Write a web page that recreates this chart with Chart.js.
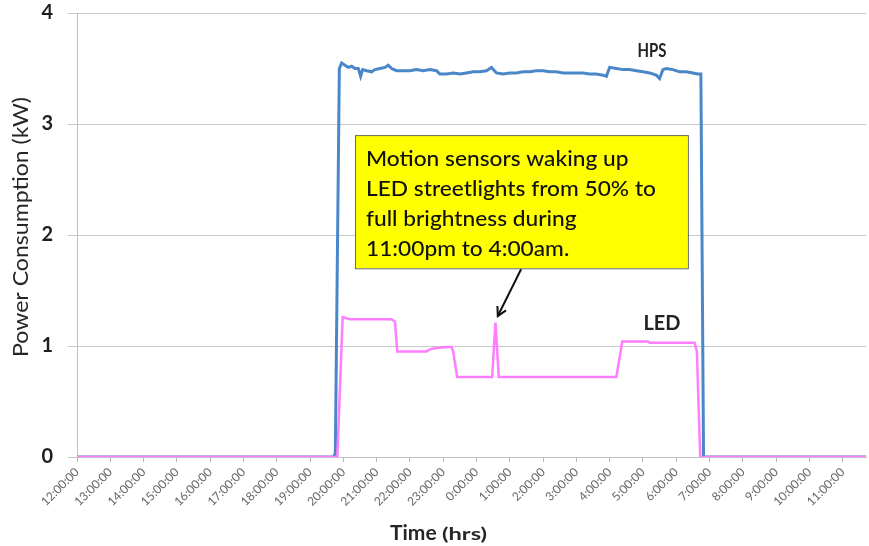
<!DOCTYPE html>
<html>
<head>
<meta charset="utf-8">
<script src="https://cdn.jsdelivr.net/npm/chart.js@4.4.1/dist/chart.umd.min.js"></script>
<style>
  html, body { margin: 0; padding: 0; background: #fff; }
  #wrap { width: 869px; height: 546px; }
</style>
</head>
<body>
<div id="wrap"><canvas id="powerChart" width="869" height="546"></canvas></div>
<script>
// x values are hours after 12:00 (noon)
const hpsHours = [0, 7.70, 7.76, 7.88, 7.95, 8.05, 8.15, 8.25, 8.35, 8.45, 8.52, 8.58, 8.70, 8.85, 8.95,
  9.10, 9.25, 9.35, 9.45, 9.60, 9.80, 10.0, 10.2, 10.4, 10.6, 10.8, 10.9, 11.1, 11.3, 11.5, 11.7,
  11.9, 12.1, 12.3, 12.45, 12.6, 12.8, 13.0, 13.2, 13.4, 13.6, 13.8, 14.0, 14.2, 14.4, 14.6, 14.8,
  15.0, 15.2, 15.4, 15.6, 15.8, 15.9, 16.0, 16.2, 16.4, 16.6, 16.8, 17.0, 17.2, 17.4, 17.5, 17.6,
  17.7, 17.9, 18.1, 18.3, 18.5, 18.65, 18.74, 18.82, 23.7];
const hpsKw = [0, 0, 0.03, 3.50, 3.55, 3.53, 3.51, 3.52, 3.50, 3.50, 3.43, 3.49, 3.48, 3.47, 3.49,
  3.50, 3.51, 3.53, 3.50, 3.48, 3.48, 3.48, 3.49, 3.48, 3.49, 3.48, 3.45, 3.45, 3.46, 3.45, 3.46,
  3.47, 3.47, 3.48, 3.51, 3.46, 3.45, 3.46, 3.46, 3.47, 3.47, 3.48, 3.48, 3.47, 3.47, 3.46, 3.46,
  3.46, 3.46, 3.45, 3.45, 3.44, 3.43, 3.51, 3.50, 3.49, 3.49, 3.48, 3.47, 3.46, 3.44, 3.41, 3.49,
  3.50, 3.49, 3.47, 3.47, 3.46, 3.45, 3.45, 0, 0];

const ledHours = [0, 7.82, 7.98, 8.10, 8.20, 9.45, 9.55, 9.62, 10.50, 10.60, 10.75, 11.10, 11.25,
  11.30, 11.42, 12.47, 12.57, 12.67, 16.20, 16.38, 17.15, 17.20, 18.55, 18.62, 18.72, 23.7];
const ledKw = [0, 0, 1.26, 1.25, 1.24, 1.24, 1.22, 0.95, 0.95, 0.97, 0.98, 0.99, 0.99,
  0.95, 0.72, 0.72, 1.21, 0.72, 0.72, 1.04, 1.04, 1.03, 1.03, 0.95, 0, 0];

const yTicks = [0, 1, 2, 3, 4];
const noteLines = [
  "Motion sensors waking up",
  "LED streetlights from 50% to",
  "full brightness during",
  "11:00pm to 4:00am."
];

function toPoints(xs, ys) {
  return xs.map((x, i) => ({ x: x, y: ys[i] }));
}

function hourLabel(v) {
  return ((12 + v) % 24) + ":00:00";
}

// text squeezed sideways to a given width, like the source picture
function fitText(ctx, text, x, y, width, align) {
  const w = ctx.measureText(text).width;
  const sx = width ? width / w : 1;
  ctx.save();
  ctx.translate(x, y);
  ctx.scale(sx, 1);
  ctx.textAlign = align || "left";
  ctx.fillText(text, 0, 0);
  ctx.restore();
  return w * sx;
}

const decor = {
  id: "decor",
  afterDatasetsDraw(chart) {
    const ctx = chart.ctx;
    const xs = chart.scales.x, ys = chart.scales.y;

    // callout box
    const bx0 = xs.getPixelForValue(8.35), bx1 = xs.getPixelForValue(18.35);
    const by0 = ys.getPixelForValue(2.90), by1 = ys.getPixelForValue(1.70);
    ctx.save();
    ctx.fillStyle = "#ffff00";
    ctx.fillRect(bx0, by0, bx1 - bx0, by1 - by0);
    ctx.strokeStyle = "#6a6a6a";
    ctx.lineWidth = 1;
    ctx.strokeRect(bx0 + 0.5, by0 + 0.5, bx1 - bx0, by1 - by0);
    ctx.fillStyle = "#111";
    ctx.font = "500 22px Lato";
    ctx.textBaseline = "alphabetic";
    const longest = Math.max(...noteLines.map(t => ctx.measureText(t).width));
    const squeeze = 290 / longest;
    noteLines.forEach((t, i) => {
      fitText(ctx, t, bx0 + 11, by0 + 31 + i * 30, ctx.measureText(t).width * squeeze);
    });

    // arrow to the spike
    const ax0 = xs.getPixelForValue(13.34), ay0 = by1 + 1;
    const ax1 = xs.getPixelForValue(12.64), ay1 = ys.getPixelForValue(1.27);
    ctx.strokeStyle = "#111";
    ctx.lineWidth = 2;
    ctx.beginPath();
    ctx.moveTo(ax0, ay0);
    ctx.lineTo(ax1, ay1);
    ctx.stroke();
    const ang = Math.atan2(ay1 - ay0, ax1 - ax0);
    ctx.beginPath();
    ctx.moveTo(ax1 - 10 * Math.cos(ang - 0.5), ay1 - 10 * Math.sin(ang - 0.5));
    ctx.lineTo(ax1, ay1);
    ctx.lineTo(ax1 - 10 * Math.cos(ang + 0.5), ay1 - 10 * Math.sin(ang + 0.5));
    ctx.stroke();

    // series labels
    ctx.fillStyle = "#222";
    ctx.font = "bold 18px Lato";
    fitText(ctx, "HPS", xs.getPixelForValue(17.27), ys.getPixelForValue(3.6), 29, "center");
    ctx.font = "bold 20px Lato";
    fitText(ctx, "LED", xs.getPixelForValue(17.57), ys.getPixelForValue(1.14), 37, "center");

    // axis titles
    ctx.fillStyle = "#262626";
    ctx.font = "21px Lato";
    ctx.save();
    ctx.translate(28, 227);
    ctx.rotate(-Math.PI / 2);
    fitText(ctx, "Power Consumption (kW)", 0, 0, 260, "center");
    ctx.restore();

    ctx.font = "bold 21px Lato";
    ctx.textAlign = "left";
    ctx.fillText("Time", 390, 540);
    ctx.font = "bold 17px Lato";
    fitText(ctx, "(hrs)", 442, 540, 45);
    ctx.restore();
  }
};

new Chart(document.getElementById("powerChart").getContext("2d"), {
  type: "line",
  data: {
    datasets: [
      {
        label: "LED",
        data: toPoints(ledHours, ledKw),
        borderColor: "#ff7dff",
        borderWidth: 2.5,
        pointRadius: 0,
        tension: 0
      },
      {
        label: "HPS",
        data: toPoints(hpsHours, hpsKw),
        borderColor: "#4a87c8",
        borderWidth: 3,
        pointRadius: 0,
        tension: 0
      }
    ]
  },
  options: {
    responsive: false,
    animation: false,
    devicePixelRatio: 1,
    layout: { padding: { top: 13, right: 3, left: 0, bottom: 0 } },
    plugins: {
      legend: { display: false },
      tooltip: { enabled: false }
    },
    scales: {
      x: {
        type: "linear",
        min: 0,
        max: 23.7,
        afterFit(scale) { scale.height = 89; scale.paddingTop = 0; },
        grid: { drawOnChartArea: false, drawTicks: true, tickLength: 5, color: "#b8b8b8" },
        border: { color: "#c0c0c0" },
        ticks: {
          stepSize: 1,
          includeBounds: false,
          autoSkip: false,
          maxRotation: 45,
          minRotation: 45,
          padding: 3,
          color: "#666",
          font: { family: "Lato", size: 12 },
          callback: v => hourLabel(v)
        }
      },
      y: {
        min: 0,
        max: 4,
        afterFit(scale) { scale.width = 77; scale.paddingTop = 0; },
        afterBuildTicks(scale) { scale.ticks = yTicks.map(v => ({ value: v })); },
        grid: { color: "#c8c8c8", tickLength: 9 },
        border: { color: "#c0c0c0" },
        ticks: {
          padding: 15,
          color: "#1f1f1f",
          font: { family: "Lato", size: 20, weight: "bold" }
        }
      }
    }
  },
  plugins: [decor]
});
</script>
</body>
</html>
